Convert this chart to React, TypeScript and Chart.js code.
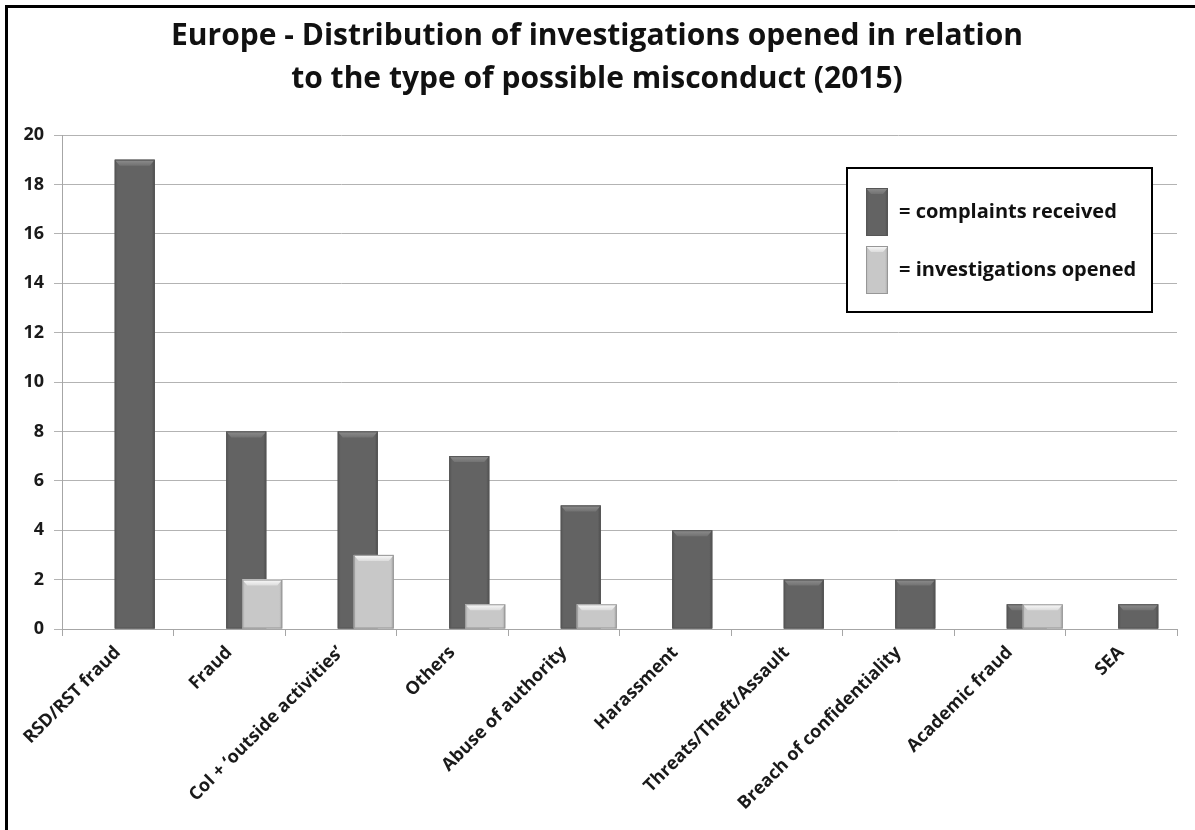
import React, { useEffect, useRef } from "react";
import { Chart, registerables } from "chart.js";

Chart.register(...registerables);

const TITLE_LINES = [
  "Europe - Distribution of investigations opened in relation",
  "to the type of possible misconduct (2015)",
];

const categories = [
  "RSD/RST fraud",
  "Fraud",
  "CoI + \u2018outside activities\u2019",
  "Others",
  "Abuse of authority",
  "Harassment",
  "Threats/Theft/Assault",
  "Breach of confidentiality",
  "Academic fraud",
  "SEA",
];

const complaintsReceived = [19, 8, 8, 7, 5, 4, 2, 2, 1, 1];
const investigationsOpened = [0, 2, 3, 1, 1, 0, 0, 0, 1, 0];

const seriesLabels = ["complaints received", "investigations opened"];

const Y_MIN = 0;
const Y_MAX = 20;
const Y_STEP = 2;

const FONT = "'Open Sans'";

type BevelStyle = {
  face: string;
  edge: string;
  edgeDark: string;
  topLight: string;
  topDark: string;
  outline: string;
};

const DARK: BevelStyle = {
  face: "#636363",
  edge: "#575757",
  edgeDark: "#4e4e4e",
  topLight: "#8e8e8e",
  topDark: "#727272",
  outline: "#565656",
};

const LIGHT: BevelStyle = {
  face: "#c8c8c8",
  edge: "#bcbcbc",
  edgeDark: "#a6a6a6",
  topLight: "#fbfbfb",
  topDark: "#dcdcdc",
  outline: "#979797",
};

const STYLES = [DARK, LIGHT];
// horizontal pixel shift of each series relative to category centre
const SERIES_SHIFT = [17, 33];

function drawBevelBar(
  ctx: CanvasRenderingContext2D,
  left: number,
  top: number,
  right: number,
  bottom: number,
  s: BevelStyle
) {
  const w = right - left;
  const h = bottom - top;
  if (h <= 0.5 || w <= 0.5) return;
  ctx.save();
  const edge = Math.min(3, w / 6);
  const g = ctx.createLinearGradient(left, 0, right, 0);
  g.addColorStop(0, s.edge);
  g.addColorStop(edge / w, s.face);
  g.addColorStop(1 - edge / w, s.face);
  g.addColorStop(1, s.edgeDark);
  ctx.fillStyle = g;
  ctx.fillRect(left, top, w, h);
  const bh = Math.min(6, h / 2);
  const inset = Math.min(5, w / 4);
  ctx.beginPath();
  ctx.moveTo(left, top);
  ctx.lineTo(right, top);
  ctx.lineTo(right - inset, top + bh);
  ctx.lineTo(left + inset, top + bh);
  ctx.closePath();
  const tg = ctx.createLinearGradient(0, top, 0, top + bh);
  tg.addColorStop(0, s.topLight);
  tg.addColorStop(1, s.topDark);
  ctx.fillStyle = tg;
  ctx.fill();
  ctx.strokeStyle = s.outline;
  ctx.lineWidth = 1;
  ctx.strokeRect(left + 0.5, top + 0.5, w - 1, h - 1);
  ctx.restore();
}

const shiftPlugin = {
  id: "shiftBars",
  afterDatasetsUpdate(chart: any) {
    chart.data.datasets.forEach((_: any, i: number) => {
      const meta = chart.getDatasetMeta(i);
      meta.data.forEach((el: any) => {
        el.x += SERIES_SHIFT[i];
      });
    });
  },
};

const bevelPlugin = {
  id: "bevel",
  afterDatasetDraw(chart: any, args: any) {
    const ctx = chart.ctx;
    const s = STYLES[args.index];
    args.meta.data.forEach((el: any) => {
      const { x, y, base, width } = el.getProps(["x", "y", "base", "width"], true);
      drawBevelBar(ctx, x - width / 2, Math.min(y, base), x + width / 2, Math.max(y, base), s);
    });
  },
};

const decorPlugin = {
  id: "decor",
  beforeDraw(chart: any) {
    const ctx = chart.ctx;
    ctx.save();
    ctx.fillStyle = "#ffffff";
    ctx.fillRect(0, 0, chart.width, chart.height);
    ctx.fillStyle = "#000000";
    ctx.fillRect(5, 5, chart.width, 3);
    ctx.fillRect(5, 5, 3, chart.height);
    ctx.restore();
  },
  afterDraw(chart: any) {
    const ctx = chart.ctx;
    ctx.save();
    // title
    ctx.fillStyle = "#111111";
    ctx.textAlign = "center";
    ctx.textBaseline = "alphabetic";
    ctx.font = `bold 30px ${FONT}`;
    ctx.fillText(TITLE_LINES[0], 597, 45);
    ctx.fillText(TITLE_LINES[1], 597, 88);

    // legend box
    ctx.fillStyle = "#ffffff";
    ctx.fillRect(847, 168, 305, 144);
    ctx.strokeStyle = "#000000";
    ctx.lineWidth = 2;
    ctx.strokeRect(847, 168, 305, 144);
    const iconTops = [188, 246];
    ctx.font = `bold 20px ${FONT}`;
    ctx.textAlign = "left";
    ctx.textBaseline = "middle";
    chart.data.datasets.forEach((ds: any, i: number) => {
      const t = iconTops[i];
      drawBevelBar(ctx, 866, t, 888, t + 48, STYLES[i]);
      ctx.fillStyle = "#111111";
      ctx.fillText("= " + ds.label, 899, t + 24);
    });
    ctx.restore();
  },
};

export default function App() {
  const ref = useRef<HTMLCanvasElement>(null);

  useEffect(() => {
    document.body.style.margin = "0";
    const canvas = ref.current!;
    const chart = new Chart(canvas, {
      type: "bar",
      data: {
        labels: categories,
        datasets: [
          {
            label: seriesLabels[0],
            data: complaintsReceived,
            backgroundColor: DARK.face,
            borderWidth: 0,
            order: 1,
          },
          {
            label: seriesLabels[1],
            data: investigationsOpened,
            backgroundColor: LIGHT.face,
            borderWidth: 0,
            order: 0,
          },
        ],
      },
      options: {
        animation: false,
        responsive: false,
        devicePixelRatio: 1,
        layout: { padding: { left: 0, top: 135, right: 18, bottom: 0 } },
        datasets: {
          bar: {
            grouped: false,
            categoryPercentage: 1,
            barPercentage: 40 / 111.5,
          },
        },
        plugins: {
          legend: { display: false },
          tooltip: { enabled: false },
          title: { display: false },
        },
        scales: {
          x: {
            offset: true,
            grid: {
              display: true,
              drawOnChartArea: false,
              drawTicks: true,
              tickLength: 7,
              color: "#a6a6a6",
              offset: true,
            },
            border: { display: true, color: "#a6a6a6" },
            ticks: {
              autoSkip: false,
              minRotation: 45,
              maxRotation: 45,
              padding: 6,
              color: "#1a1a1a",
              font: { family: FONT, weight: "bold", size: 18 },
            },
            afterFit(scale: any) {
              scale.height = 201;
              scale.paddingLeft = 0;
              scale.paddingRight = 0;
            },
          },
          y: {
            min: Y_MIN,
            max: Y_MAX,
            grid: {
              color: "#b3b3b3",
              tickLength: 8,
            },
            border: { display: true, color: "#a6a6a6" },
            ticks: {
              stepSize: Y_STEP,
              padding: 10,
              color: "#1a1a1a",
              font: { family: FONT, weight: "bold", size: 18 },
            },
            afterFit(scale: any) {
              scale.width = 62;
            },
          },
        },
      },
      plugins: [shiftPlugin, bevelPlugin, decorPlugin],
    });
    return () => chart.destroy();
  }, []);

  return (
    <div style={{ width: 1195, height: 830, position: "relative", overflow: "hidden", background: "#fff" }}>
      <canvas ref={ref} width={1195} height={830} style={{ display: "block" }} />
    </div>
  );
}
